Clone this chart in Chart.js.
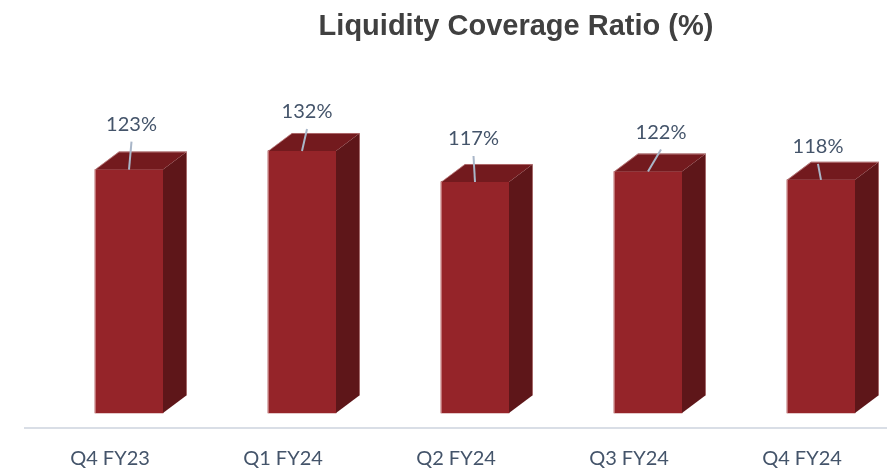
<!DOCTYPE html>
<html>
<head>
<meta charset="utf-8">
<script src="https://cdn.jsdelivr.net/npm/chart.js@4.4.1/dist/chart.umd.min.js"></script>
<style>
    html, body { margin: 0; padding: 0; background: #ffffff; }
    #wrap { position: relative; width: 887px; height: 469px; }
</style>
</head>
<body>
<div id="wrap"><canvas id="lcrChart"></canvas></div>
<script>
const quarters = ['Q4 FY23', 'Q1 FY24', 'Q2 FY24', 'Q3 FY24', 'Q4 FY24'];
const lcrValues = [123, 132, 117, 122, 118];
const yMin = 5.2;
const yMax = 176;

// where each data label sits relative to the top of its bar (x shift, rise to baseline)
const labelShift = [2.5, 5, -1.5, 13, -3];
const labelRise = [39, 33, 37, 33, 27];

const DEPTH_X = 24;
const DEPTH_Y = 18;
const CATEGORY_SHIFT = -19; // perspective: axis labels sit left of the front faces
const TEXT_FONT = '20px Lato, "Open Sans", sans-serif';
const TEXT_COLOR = '#44546A';

const bar3dPlugin = {
    id: 'bar3d',
    afterDatasetsDraw: (chart) => {
        const { ctx } = chart;
        chart.getDatasetMeta(0).data.forEach((bar) => {
            const { x, y, base, width } = bar.getProps(['x', 'y', 'base', 'width'], true);
            const left = x - width / 2;
            const right = x + width / 2;

            // side face
            ctx.fillStyle = '#5E1619';
            ctx.beginPath();
            ctx.moveTo(right, y);
            ctx.lineTo(right + DEPTH_X, y - DEPTH_Y);
            ctx.lineTo(right + DEPTH_X, base - DEPTH_Y);
            ctx.lineTo(right, base);
            ctx.closePath();
            ctx.fill();

            // top face
            ctx.fillStyle = '#731A1E';
            ctx.beginPath();
            ctx.moveTo(left, y);
            ctx.lineTo(left + DEPTH_X, y - DEPTH_Y);
            ctx.lineTo(right + DEPTH_X, y - DEPTH_Y);
            ctx.lineTo(right, y);
            ctx.closePath();
            ctx.fill();

            // faint light rim on the outer edges
            ctx.strokeStyle = 'rgba(235, 190, 190, 0.5)';
            ctx.lineWidth = 1;
            ctx.beginPath();
            ctx.moveTo(left + 0.5, base);
            ctx.lineTo(left + 0.5, y);
            ctx.lineTo(left + DEPTH_X, y - DEPTH_Y + 0.5);
            ctx.lineTo(right + DEPTH_X - 0.5, y - DEPTH_Y + 0.5);
            ctx.lineTo(right + DEPTH_X - 0.5, base - DEPTH_Y);
            ctx.stroke();
        });
    },
    afterDraw: (chart) => {
        const { ctx, chartArea } = chart;
        const xScale = chart.scales.x;

        ctx.save();

        // title
        ctx.font = 'bold 29px "Liberation Sans", Arial, sans-serif';
        ctx.fillStyle = '#404040';
        ctx.textAlign = 'center';
        ctx.textBaseline = 'alphabetic';
        ctx.fillText('Liquidity Coverage Ratio (%)', 516, 35);

        // horizontal axis line under the bars
        ctx.strokeStyle = '#D9DEE6';
        ctx.lineWidth = 2;
        ctx.beginPath();
        ctx.moveTo(24, chartArea.bottom + 15);
        ctx.lineTo(chart.width, chartArea.bottom + 15);
        ctx.stroke();

        // category labels
        ctx.font = TEXT_FONT;
        ctx.fillStyle = TEXT_COLOR;
        chart.data.labels.forEach((label, i) => {
            ctx.fillText(label, xScale.getPixelForTick(i) + CATEGORY_SHIFT, chartArea.bottom + 52);
        });

        // data labels with leader lines
        const dataset = chart.data.datasets[0];
        chart.getDatasetMeta(0).data.forEach((bar, i) => {
            const { x, y } = bar.getProps(['x', 'y'], true);
            const lx = x + labelShift[i];
            const ly = y - labelRise[i];

            ctx.strokeStyle = '#A9B6C8';
            ctx.lineWidth = 2;
            ctx.beginPath();
            ctx.moveTo(lx, ly + 11);
            ctx.lineTo(x, y);
            ctx.stroke();

            ctx.fillText(dataset.data[i] + '%', lx, ly);
        });
        ctx.restore();
    }
};

new Chart(document.getElementById('lcrChart'), {
    type: 'bar',
    plugins: [bar3dPlugin],
    data: {
        labels: quarters,
        datasets: [{
            data: lcrValues,
            base: yMin,
            backgroundColor: '#952429',
            borderWidth: 0,
            barThickness: 68,
            clip: false
        }]
    },
    options: {
        responsive: true,
        maintainAspectRatio: false,
        animation: false,
        layout: {
            padding: { top: 60, left: 129, right: 66, bottom: 56 }
        },
        plugins: {
            legend: { display: false },
            tooltip: { enabled: false },
            title: { display: false }
        },
        scales: {
            x: {
                display: false,
                offset: false
            },
            y: {
                display: false,
                beginAtZero: false,
                min: yMin,
                max: yMax
            }
        }
    }
});
</script>
</body>
</html>
